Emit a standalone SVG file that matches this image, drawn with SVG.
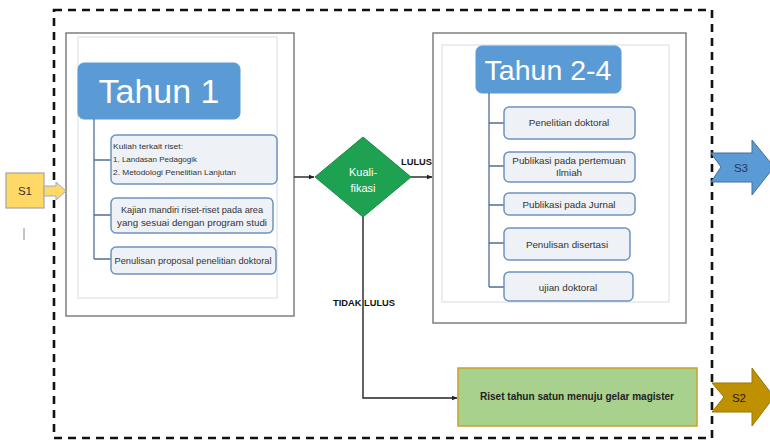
<svg xmlns="http://www.w3.org/2000/svg" width="770" height="442" viewBox="0 0 770 442">
<defs>
<style>
.frame{fill:#fff;stroke:#7f7f7f;stroke-width:1.5}
.inner{fill:#fff;stroke:#dde3ea;stroke-width:1.2}
.head{fill:#5b9bd5;stroke:#5b9bd5;stroke-width:1}
.headt{font-family:"Liberation Sans",Arial,sans-serif;fill:#fff}
.item{fill:#eef1f5;stroke:#6f93bd;stroke-width:1.5}
.t{font-family:"Liberation Sans",Arial,sans-serif;font-size:9.8px;fill:#333;text-anchor:middle}
.tl{font-family:"Liberation Sans",Arial,sans-serif;font-size:7.6px;fill:#333}
.tree{fill:none;stroke:#4f6f96;stroke-width:1.3}
.conn{fill:none;stroke:#222;stroke-width:1.4}
.lbl{font-family:"Liberation Sans",Arial,sans-serif;font-size:9.3px;font-weight:bold;fill:#111}
.dash{fill:none;stroke:#111;stroke-width:2.6;stroke-dasharray:8,6}
.s{font-family:"Liberation Sans",Arial,sans-serif;font-size:11.5px;text-anchor:middle}
</style>
<marker id="ah" viewBox="0 0 10 10" refX="9" refY="5" markerWidth="6" markerHeight="6" orient="auto" markerUnits="userSpaceOnUse">
<path d="M0,1 L10,5 L0,9 z" fill="#222"/>
</marker>
</defs>
<rect width="770" height="442" fill="#fff"/>

<g id="year1">
<rect class="frame" x="66" y="33" width="228" height="283"/>
<rect class="inner" x="78" y="37" width="199" height="261"/>
<rect class="head" x="78" y="63" width="162" height="56" rx="6"/>
<text class="headt" x="159" y="103" font-size="34" text-anchor="middle">Tahun 1</text>
<path class="tree" d="M94,119 V259 M94,160 H111 M94,215 H111 M94,259 H111"/>
<rect class="item" x="111" y="135" width="166" height="49" rx="5"/>
<text class="tl" x="113" y="149" textLength="70" lengthAdjust="spacingAndGlyphs">Kuliah terkait riset:</text>
<text class="tl" x="113" y="162" textLength="84" lengthAdjust="spacingAndGlyphs">1. Landasan Pedagogik</text>
<text class="tl" x="113" y="175" textLength="123" lengthAdjust="spacingAndGlyphs">2. Metodologi Penelitian Lanjutan</text>
<rect class="item" x="111" y="198" width="162" height="35" rx="5"/>
<text class="t" x="192" y="213" textLength="142" lengthAdjust="spacingAndGlyphs">Kajian mandiri riset-riset pada area</text>
<text class="t" x="192" y="226" textLength="150" lengthAdjust="spacingAndGlyphs">yang sesuai dengan program studi</text>
<rect class="item" x="111" y="247" width="165" height="27" rx="5"/>
<text class="t" x="193" y="264" textLength="157" lengthAdjust="spacingAndGlyphs">Penulisan proposal penelitian doktoral</text>
</g>

<g id="year2-4">
<rect class="frame" x="433" y="33" width="253" height="290"/>
<rect class="inner" x="442" y="45" width="227" height="257"/>
<rect class="head" x="476" y="46" width="145" height="47" rx="6"/>
<text class="headt" x="548" y="80" font-size="28.5" text-anchor="middle">Tahun 2-4</text>
<path class="tree" d="M489,93 V287 M489,123 H504 M489,166 H504 M489,205 H504 M489,243 H504 M489,287 H504"/>
<rect class="item" x="504" y="107" width="131" height="32" rx="5"/>
<text class="t" x="569" y="126">Penelitian doktoral</text>
<rect class="item" x="504" y="152" width="131" height="30" rx="5"/>
<text class="t" x="569" y="164">Publikasi pada pertemuan</text>
<text class="t" x="569" y="176">Ilmiah</text>
<rect class="item" x="504" y="193" width="131" height="22" rx="5"/>
<text class="t" x="569" y="208">Publikasi pada Jurnal</text>
<rect class="item" x="504" y="228" width="126" height="32" rx="5"/>
<text class="t" x="567" y="248">Penulisan disertasi</text>
<rect class="item" x="504" y="272" width="129" height="29" rx="5"/>
<text class="t" x="568" y="291">ujian doktoral</text>
</g>

<g id="kualifikasi">
<polygon points="363,137 411,177 363,217 315,177" fill="#1fa152" stroke="#1a8a45" stroke-width="1"/>
<text x="363" y="176" font-family="Liberation Sans,Arial,sans-serif" font-size="11" fill="#fff" text-anchor="middle">Kuali-</text>
<text x="363" y="192" font-family="Liberation Sans,Arial,sans-serif" font-size="11" fill="#fff" text-anchor="middle">fikasi</text>
</g>

<g id="magister">
<rect x="458" y="368" width="239" height="58" fill="#a9d18e" stroke="#c9a227" stroke-width="1.5"/>
<text x="577" y="400" font-family="Liberation Sans,Arial,sans-serif" font-size="10" font-weight="bold" fill="#222" text-anchor="middle" textLength="194" lengthAdjust="spacingAndGlyphs">Riset tahun satun menuju gelar magister</text>
</g>

<g id="boundary">
<rect class="dash" x="54" y="10" width="658" height="428"/>
</g>

<g id="s1">
<rect x="6" y="173" width="38" height="35" fill="#ffd966" stroke="#a5a5a5" stroke-width="1.2"/>
<text class="s" x="25" y="195" fill="#333">S1</text>
<path d="M44,186 H56 V182 L66,191 L56,200 V196 H44 z" fill="#ffd966" stroke="#8faadc" stroke-width="1"/>
<line x1="24" y1="228" x2="24" y2="240" stroke="#888" stroke-width="1"/>
</g>

<g id="s3">
<path d="M711,153 H752 V140 L774,167 L752,195 V182 H711 L721,167 z" fill="#5b9bd5" stroke="#41719c" stroke-width="1"/>
<text class="s" x="741" y="172" fill="#1f3864">S3</text>
</g>

<g id="s2">
<path d="M712,383 H752 V368 L774,397 L752,426 V412 H712 L724,397 z" fill="#bf9000" stroke="#9c7600" stroke-width="1"/>
<text class="s" x="739" y="402" fill="#222">S2</text>
</g>

<g id="connectors">
<path class="conn" d="M294,177 H314" marker-end="url(#ah)"/>
<path class="conn" d="M411,177 H432" marker-end="url(#ah)"/>
<path class="conn" d="M363,217 V398 H457" marker-end="url(#ah)"/>
<text class="lbl" x="401" y="165">LULUS</text>
<text class="lbl" x="333" y="306">TIDAK LULUS</text>
</g>
</svg>
